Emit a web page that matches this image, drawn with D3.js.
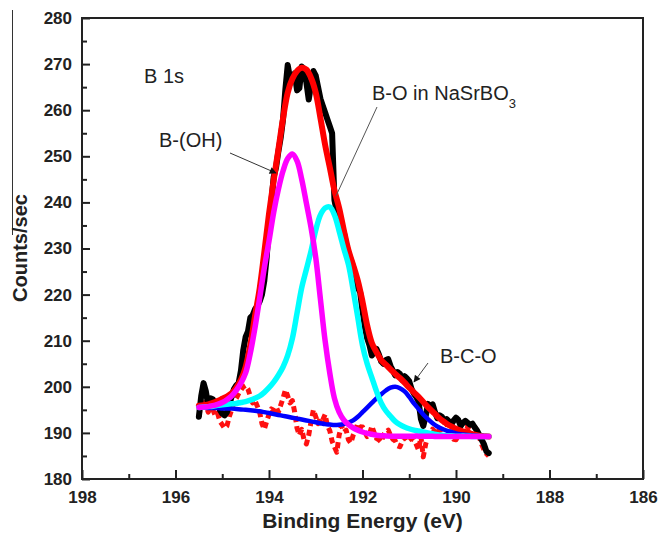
<!DOCTYPE html>
<html>
<head>
<meta charset="utf-8">
<script src="https://cdn.jsdelivr.net/npm/d3@7/dist/d3.min.js"></script>
<style>
  html, body { margin: 0; padding: 0; background: #fff; }
  svg { display: block; }
  text { font-family: "Liberation Sans", Arial, sans-serif; }
</style>
</head>
<body>
<svg id="chart" width="658" height="534"></svg>
<script>
// ---------------- DATA ----------------
const xTicks = [198, 196, 194, 192, 190, 188, 186];
const xMinorTicks = [197, 195, 193, 191, 189, 187];
const yTicks = [180, 190, 200, 210, 220, 230, 240, 250, 260, 270, 280];
const yMinorTicks = [185, 195, 205, 215, 225, 235, 245, 255, 265, 275];

// energy grid of the fitted curves (eV)
const fitEnergy = [
  195.5,195.4,195.3,195.2,195.1,195.0,194.9,194.8,194.7,194.6,
  194.5,194.4,194.3,194.2,194.1,194.0,193.9,193.8,193.7,193.6,
  193.5,193.4,193.3,193.2,193.1,193.0,192.9,192.8,192.7,192.6,
  192.5,192.4,192.3,192.2,192.1,192.0,191.9,191.8,191.7,191.6,
  191.5,191.4,191.3,191.2,191.1,191.0,190.9,190.8,190.7,190.6,
  190.5,190.4,190.3,190.2,190.1,190.0,189.9,189.8,189.7,189.6,
  189.5,189.4,189.3
];
// red: fitted envelope
const envelope = [
  195.9,196.0,196.2,196.5,196.9,197.4,197.9,198.6,199.8,201.5,
  204.3,209.0,215.3,221.3,229.2,237.5,244.8,251.4,258.2,263.8,
  266.8,268.5,269.2,268.8,267.0,263.8,258.3,252.5,247.6,242.6,
  238.8,234.0,229.6,226.4,223.0,218.5,213.3,209.5,207.5,205.8,
  204.8,203.8,202.8,201.9,200.9,199.8,198.8,197.8,196.7,195.6,
  194.6,193.6,192.7,192.0,191.4,190.9,190.5,190.2,189.9,189.6,
  189.4,189.3,189.2
];
// magenta: B-(OH)
const peakBOH = [
  195.5,195.6,195.7,195.9,196.2,196.6,197.2,198.0,199.2,200.8,
  203.0,207.3,212.8,219.2,225.8,231.6,237.8,242.8,246.8,249.5,
  250.5,249.0,245.0,239.8,234.5,228.0,219.0,210.0,203.0,197.5,
  194.5,192.8,191.8,191.1,190.6,190.2,189.9,189.7,189.5,189.4,
  189.35,189.3,189.3,189.3,189.3,189.3,189.3,189.3,189.25,189.25,
  189.25,189.2,189.2,189.2,189.2,189.2,189.2,189.2,189.2,189.2,
  189.2,189.2,189.2
];
// cyan: B-O in NaSrBO3
const peakBO = [
  195.5,195.6,195.7,195.8,196.0,196.1,196.2,196.3,196.4,196.6,
  196.8,197.1,197.5,198.0,198.8,199.8,201.0,202.5,204.3,206.8,
  210.5,216.0,221.5,225.5,229.5,234.0,237.3,238.8,239.0,237.3,
  233.8,230.0,226.5,221.0,215.0,209.0,205.0,202.0,199.0,196.5,
  194.8,193.6,192.5,191.8,191.3,190.9,190.6,190.4,190.2,190.0,
  189.8,189.6,189.5,189.4,189.4,189.3,189.3,189.3,189.25,189.2,
  189.2,189.2,189.2
];
// blue: B-C-O
const peakBCO = [
  195.6,195.5,195.4,195.4,195.4,195.3,195.3,195.3,195.2,195.1,
  195.0,194.9,194.8,194.7,194.5,194.3,194.1,193.9,193.7,193.5,
  193.3,193.1,192.9,192.7,192.5,192.3,192.1,191.9,191.8,191.7,
  191.75,191.9,192.2,192.7,193.5,194.5,195.5,196.5,197.5,198.4,
  199.2,199.8,200.0,199.7,199.0,197.8,196.4,195.2,194.0,193.0,
  192.1,191.4,190.9,190.5,190.2,189.9,189.7,189.6,189.5,189.4,
  189.3,189.3,189.2
];
// black: measured spectrum [energy, counts]
const measured = [
  [195.50,193.5],[195.45,198],[195.40,200.8],[195.35,199],[195.30,196],
  [195.25,197.5],[195.20,197.3],[195.15,195.8],[195.10,196.8],[195.05,195],
  [195.00,194.2],[194.95,193.8],[194.90,194.5],[194.85,196.2],[194.80,197.8],
  [194.75,199.5],[194.70,200.3],[194.65,200.8],[194.60,203.5],[194.55,208],
  [194.50,210.8],[194.45,212],[194.40,215],[194.35,215.5],[194.30,216.8],
  [194.25,217.5],[194.20,218.5],[194.15,220],[194.10,223],[194.05,228],
  [194.00,235],[193.95,240],[193.90,245.5],[193.85,247.5],[193.80,251],
  [193.75,254],[193.70,258],[193.65,264.5],[193.60,269.8],[193.55,267],
  [193.50,266.5],[193.45,268],[193.40,264.3],[193.35,264.8],[193.30,269.5],
  [193.25,268.8],[193.20,266],[193.15,262.3],[193.10,265.5],[193.05,268.5],
  [193.00,267.5],[192.95,265],[192.90,262.5],[192.85,261],[192.80,259.5],
  [192.75,258],[192.70,256.5],[192.65,255],[192.60,240.5],[192.55,238],
  [192.50,236.5],[192.45,235],[192.40,233.5],[192.35,231],[192.30,229],
  [192.25,227.5],[192.20,226],[192.15,224],[192.10,221.5],[192.05,220.5],
  [192.00,216.5],[191.95,213],[191.90,210.5],[191.85,209],[191.80,206.8],
  [191.75,207.5],[191.70,208.2],[191.65,207],[191.60,205.5],[191.55,205],
  [191.50,205.8],[191.45,206],[191.40,204.5],[191.35,203.5],[191.30,202.5],
  [191.25,203.2],[191.20,202.8],[191.15,201.5],[191.10,202.3],[191.05,201.8],
  [191.00,201.2],[190.95,199.5],[190.90,198.5],[190.85,197.8],[190.80,196.8],
  [190.75,193],[190.70,191.5],[190.65,193.5],[190.60,196.3],[190.55,195.8],
  [190.50,196.2],[190.45,194.5],[190.40,193.2],[190.35,193.8],[190.30,193.5],
  [190.25,192.5],[190.20,193],[190.15,192.5],[190.10,191.8],[190.05,192.7],
  [190.00,193.3],[189.95,192.8],[189.90,191.5],[189.85,192.2],[189.80,192.6],
  [189.75,192.2],[189.70,191.8],[189.65,192],[189.60,191.2],[189.55,190.5],
  [189.50,189.5],[189.45,188.5],[189.40,187.5],[189.35,186],[189.30,185.6]
];
// red dotted: residual [energy, counts]
const residual = [
  [195.50,193.5],[195.45,196.5],[195.40,198.5],[195.35,196],[195.30,194.5],
  [195.25,195.5],[195.20,195],[195.15,193.8],[195.10,194.3],[195.05,192.5],
  [195.00,191.8],[194.95,191],[194.90,191.5],[194.85,193.5],[194.80,195],
  [194.75,196.8],[194.70,197.5],[194.65,198.5],[194.60,199.3],[194.55,200],
  [194.50,200.3],[194.45,199.5],[194.40,198],[194.35,196.5],[194.30,197],
  [194.25,195.8],[194.20,194.5],[194.15,192],[194.10,190.8],[194.05,192.5],
  [194.00,194],[193.95,195.2],[193.90,194.8],[193.85,195.7],[193.80,194.5],
  [193.75,196],[193.70,197.5],[193.65,199.3],[193.60,198],[193.55,196.5],
  [193.50,197],[193.45,194.5],[193.40,191],[193.35,189.5],[193.30,190.8],
  [193.25,188.5],[193.20,187.6],[193.15,189.5],[193.10,192.5],[193.05,195],
  [193.00,193.5],[192.95,192],[192.90,193.2],[192.85,192.8],[192.80,194],
  [192.75,191.5],[192.70,190.5],[192.65,188.2],[192.60,187],[192.55,185.8],
  [192.50,189.5],[192.45,191.6],[192.40,190.2],[192.35,190.6],[192.30,188.5],
  [192.25,187.8],[192.20,189.5],[192.15,190.6],[192.10,192.1],[192.05,191.2],
  [192.00,191.3],[191.95,190.2],[191.90,189.2],[191.85,189.7],[191.80,191.5],
  [191.75,190],[191.70,188.8],[191.65,188.5],[191.60,188],[191.55,189.6],
  [191.50,190.2],[191.45,190.6],[191.40,189.5],[191.35,188.6],[191.30,188.3],
  [191.25,187.2],[191.20,187],[191.15,188.1],[191.10,189],[191.05,188.1],
  [191.00,188.5],[190.95,188.8],[190.90,188.5],[190.85,187.5],[190.80,186.3],
  [190.75,189.2],[190.70,184.8],[190.65,187.5],[190.60,189.3],[190.55,190],
  [190.50,190.8],[190.45,190.3],[190.40,191.2],[190.35,190.5],[190.30,190.8],
  [190.25,191.8],[190.20,192],[190.15,190.5],[190.10,189.2],[190.05,188.6],
  [190.00,188.5],[189.95,189.5],[189.90,190.6],[189.85,191.3],[189.80,191.5],
  [189.75,191.3],[189.70,190.8],[189.65,191],[189.60,191.3],[189.55,190.5],
  [189.50,189],[189.45,187.5],[189.40,186.3],[189.35,185.5],[189.30,185]
];

// ---------------- CHART ----------------
const svg = d3.select("#chart");
const plotLeft = 82, plotRight = 643, plotTop = 18, plotBottom = 479;
const x = d3.scaleLinear().domain([198, 186]).range([plotLeft, plotRight]);
const y = d3.scaleLinear().domain([180, 280]).range([plotBottom, plotTop]);
const ink = "#222";

// stray vertical rule at far left (as in the reference)
svg.append("line").attr("x1", 12.5).attr("x2", 12.5).attr("y1", 10).attr("y2", 235)
  .attr("stroke", "#333").attr("stroke-width", 1);

// axes
const gx = svg.append("g").attr("transform", `translate(0,${plotBottom})`);
gx.call(d3.axisBottom(x).tickValues(xTicks).tickSize(-9).tickPadding(12).tickFormat(d3.format("d")));
const gxm = svg.append("g").attr("transform", `translate(0,${plotBottom})`);
gxm.call(d3.axisBottom(x).tickValues(xMinorTicks).tickSize(-5).tickFormat(""));
const gy = svg.append("g").attr("transform", `translate(${plotLeft},0)`);
gy.call(d3.axisLeft(y).tickValues(yTicks).tickSize(-8).tickPadding(10).tickFormat(d3.format("d")));
const gym = svg.append("g").attr("transform", `translate(${plotLeft},0)`);
gym.call(d3.axisLeft(y).tickValues(yMinorTicks).tickSize(-5).tickFormat(""));
[gx, gxm, gy, gym].forEach(g => {
  g.select(".domain").remove();
  g.selectAll(".tick line").attr("stroke", ink).attr("stroke-width", 2);
  g.selectAll(".tick text").attr("fill", ink)
    .style("font-family", '"Liberation Sans", Arial, sans-serif')
    .style("font-size", "17px").style("font-weight", "bold");
});

// frame
svg.append("rect").attr("x", plotLeft).attr("y", plotTop)
  .attr("width", plotRight - plotLeft).attr("height", plotBottom - plotTop)
  .attr("fill", "none").attr("stroke", ink).attr("stroke-width", 2);

// axis titles
svg.append("text").attr("x", (plotLeft + plotRight) / 2).attr("y", 528)
  .attr("text-anchor", "middle").attr("fill", ink)
  .style("font-size", "21px").style("font-weight", "bold")
  .text("Binding Energy (eV)");
svg.append("text").attr("transform", "translate(27,248) rotate(-90)")
  .attr("text-anchor", "middle").attr("fill", ink)
  .style("font-size", "20px").style("font-weight", "bold")
  .text("Counts/sec");

// curves
const linePairs = d3.line().x(d => x(d[0])).y(d => y(d[1]));
const lineFit = d3.line().x((d, i) => x(fitEnergy[i])).y(d => y(d)).curve(d3.curveCatmullRom.alpha(0.5));

const plot = svg.append("g").attr("fill", "none")
  .attr("stroke-linejoin", "round").attr("stroke-linecap", "round");

plot.append("path").datum(residual).attr("d", linePairs)
  .attr("stroke", "#ff1010").attr("stroke-width", 5)
  .attr("stroke-dasharray", "6,4").attr("stroke-linecap", "butt");
plot.append("path").datum(measured).attr("d", linePairs)
  .attr("stroke", "#000").attr("stroke-width", 6);
plot.append("path").datum(envelope).attr("d", lineFit)
  .attr("stroke", "#ff0000").attr("stroke-width", 6);
plot.append("path").datum(peakBCO).attr("d", lineFit)
  .attr("stroke", "#0000ff").attr("stroke-width", 4.5);
plot.append("path").datum(peakBO).attr("d", lineFit)
  .attr("stroke", "#00ffff").attr("stroke-width", 5.5);
plot.append("path").datum(peakBOH).attr("d", lineFit)
  .attr("stroke", "#ff00ff").attr("stroke-width", 5.5);

// annotations
const defs = svg.append("defs");
defs.append("marker").attr("id", "arrow").attr("viewBox", "0 0 10 10")
  .attr("refX", 9).attr("refY", 5).attr("markerWidth", 9).attr("markerHeight", 7)
  .attr("markerUnits", "userSpaceOnUse").attr("orient", "auto")
  .append("path").attr("d", "M0,0 L10,5 L0,10 z").attr("fill", "#111");

const ann = svg.append("g").attr("fill", ink).style("font-size", "20px");
ann.append("text").attr("x", 144).attr("y", 83).text("B 1s");
ann.append("text").attr("x", 159).attr("y", 147).text("B-(OH)");
const t3 = ann.append("text").attr("x", 372).attr("y", 100);
t3.append("tspan").text("B-O in NaSrBO");
t3.append("tspan").attr("dy", 8).style("font-size", "13px").text("3");
ann.append("text").attr("x", 440).attr("y", 363).text("B-C-O");

svg.append("line").attr("x1", 230).attr("y1", 153).attr("x2", 276).attr("y2", 173)
  .attr("stroke", "#333").attr("stroke-width", 1).attr("marker-end", "url(#arrow)");
svg.append("line").attr("x1", 377).attr("y1", 107).attr("x2", 336).attr("y2", 196)
  .attr("stroke", "#555").attr("stroke-width", 1);
svg.append("line").attr("x1", 428).attr("y1", 363).attr("x2", 414).attr("y2", 382)
  .attr("stroke", "#444").attr("stroke-width", 1).attr("marker-end", "url(#arrow)");
</script>
</body>
</html>
